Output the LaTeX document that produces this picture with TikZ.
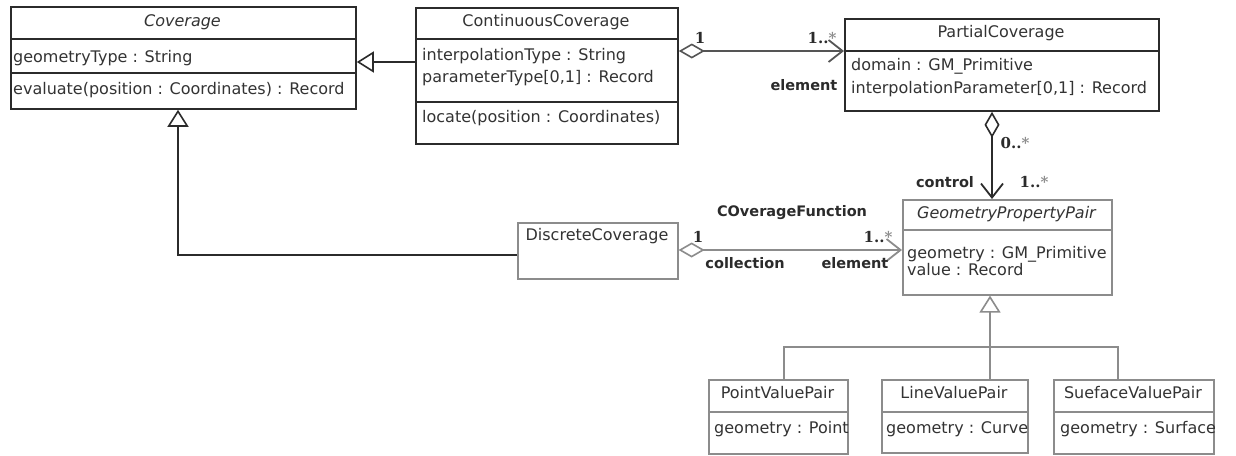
\documentclass[tikz,border=0pt]{standalone}
\usepackage{fontspec}
\setmainfont{DejaVu Sans}
\newfontfamily\multfont{DejaVu Serif}
\usetikzlibrary{arrows.meta}
\definecolor{dk}{HTML}{2B2B2B}
\definecolor{gr}{HTML}{8C8C8C}
\definecolor{tx}{HTML}{333333}
\definecolor{md}{HTML}{555555}
\begin{document}
\begin{tikzpicture}[x=1pt,y=-1pt,
  topbox/.style={draw=dk, line width=1.8pt, fill=white, anchor=north west, inner sep=0pt},
  graybox/.style={draw=gr, line width=1.6pt, fill=white, anchor=north west, inner sep=0pt},
  divdk/.style={draw=dk, line width=1.2pt},
  divgr/.style={draw=gr, line width=1.2pt},
  ttl/.style={text=tx, font=\fontsize{16}{19}\selectfont, inner sep=0pt, anchor=base},
  attr/.style={text=tx, font=\fontsize{16}{19}\selectfont, inner sep=0pt, anchor=base west},
  lbl/.style={text=dk, font=\fontsize{14.5}{17}\selectfont\bfseries, inner sep=0pt},
  mul/.style={text=dk, font=\fontsize{15}{17}\selectfont\multfont\bfseries, inner sep=0pt},
  dkline/.style={draw=dk, line width=1.8pt},
  mdline/.style={draw=md, line width=1.8pt},
  grline/.style={draw=gr, line width=1.8pt},
  gen/.style={-{Triangle[open, length=17pt, width=21pt, line width=1.6pt]}},
  aggr/.style={{Diamond[open, length=26pt, width=15pt, line width=1.6pt]}-{Straight Barb[length=14pt, width=22pt, line width=1.8pt]}}
]
\useasboundingbox (0,0) rectangle (1236,455);
\fill[white] (0,0) rectangle (1236,455);

% ---- Coverage
\node[topbox, minimum width=345pt, minimum height=102pt] (cov) at (10,6) {};
\draw[divdk] (cov.west |- 0,39) -- (cov.east |- 0,39);
\draw[divdk] (cov.west |- 0,73) -- (cov.east |- 0,73);
\node[ttl] (covT) at (182.5,26) {\itshape Coverage};
\node[attr] (covA) at (13,62) {geometryType : String};
\node[attr] (covO) at (13,94) {evaluate(position : Coordinates) : Record};

% ---- ContinuousCoverage
\node[topbox, minimum width=262pt, minimum height=136pt] (cont) at (415,7) {};
\draw[divdk] (cont.west |- 0,39) -- (cont.east |- 0,39);
\draw[divdk] (cont.west |- 0,102) -- (cont.east |- 0,102);
\node[ttl] (contT) at (546,27) {ContinuousCoverage};
\node[attr] (contA1) at (422,60) {interpolationType : String};
\node[attr] (contA2) at (422,82) {parameterType[0,1] : Record};
\node[attr] (contO) at (422,122) {locate(position : Coordinates)};

% ---- PartialCoverage
\node[topbox, minimum width=314pt, minimum height=92pt] (part) at (844,18) {};
\draw[divdk] (part.west |- 0,51) -- (part.east |- 0,51);
\node[ttl] (partT) at (1001,37) {PartialCoverage};
\node[attr] (partA1) at (851,70) {domain : GM\_Primitive};
\node[attr] (partA2) at (851,93) {interpolationParameter[0,1] : Record};

% ---- GeometryPropertyPair
\node[graybox, minimum width=209pt, minimum height=95pt] (gpp) at (902,199) {};
\draw[divgr] (gpp.west |- 0,230) -- (gpp.east |- 0,230);
\node[ttl] (gppT) at (1006.5,218) {\itshape GeometryPropertyPair};
\node[attr] (gppA1) at (907,258) {geometry : GM\_Primitive};
\node[attr] (gppA2) at (907,275) {value : Record};

% ---- DiscreteCoverage
\node[graybox, minimum width=160pt, minimum height=56pt] (disc) at (517,222) {};
\node[ttl] (discT) at (597,240) {DiscreteCoverage};

% ---- sub classes
\node[graybox, minimum width=139pt, minimum height=74pt] (pvp) at (708,379) {};
\draw[divgr] (pvp.west |- 0,412) -- (pvp.east |- 0,412);
\node[ttl] (pvpT) at (777.5,398) {PointValuePair};
\node[attr] (pvpA) at (714,433) {geometry : Point};

\node[graybox, minimum width=146pt, minimum height=73pt] (lvp) at (881,379) {};
\draw[divgr] (lvp.west |- 0,412) -- (lvp.east |- 0,412);
\node[ttl] (lvpT) at (954,398) {LineValuePair};
\node[attr] (lvpA) at (886,433) {geometry : Curve};

\node[graybox, minimum width=160pt, minimum height=74pt] (svp) at (1053,379) {};
\draw[divgr] (svp.west |- 0,412) -- (svp.east |- 0,412);
\node[ttl] (svpT) at (1133,398) {SuefaceValuePair};
\node[attr] (svpA) at (1060,433) {geometry : Surface};

% ---- connectors
\draw[dkline, gen] (cont.west |- 0,62) -- (cov.east |- 0,62);
\draw[dkline, gen] (disc.west |- 0,255) -| (178,0 |- cov.south);
\draw[mdline, aggr] (cont.east |- 0,51) -- (part.west |- 0,51);
\draw[dkline, aggr] (part.south -| 992,0) -- (gpp.north -| 992,0);
\draw[grline, aggr] (disc.east |- 0,250) -- (gpp.west |- 0,250);

\coordinate (jn) at (990,347);
\draw[grline, gen] (jn) -- (gpp.south -| jn);
\draw[grline] (pvp.north -| 784,0) |- (jn) -| (svp.north -| 1118,0);
\draw[grline] (lvp.north -| jn) -- (jn);

% ---- labels
\node[mul] (m1) at (700,38) {1};
\node[mul] (m2) at (822,38) {1..\textcolor{gr}{*}};
\node[lbl] (l1) at (804,85) {element};
\node[mul] (m3) at (1015,143) {0..\textcolor{gr}{*}};
\node[lbl] (l2) at (945,182) {control};
\node[mul] (m4) at (1034,182) {1..\textcolor{gr}{*}};
\node[lbl] (l3) at (792,213) {COverageFunction};
\node[mul] (m5) at (698,237) {1};
\node[mul] (m6) at (878,237) {1..\textcolor{gr}{*}};
\node[lbl] (l4) at (745,263) {collection};
\node[lbl] (l5) at (855,263) {element};
\end{tikzpicture}
\end{document}
